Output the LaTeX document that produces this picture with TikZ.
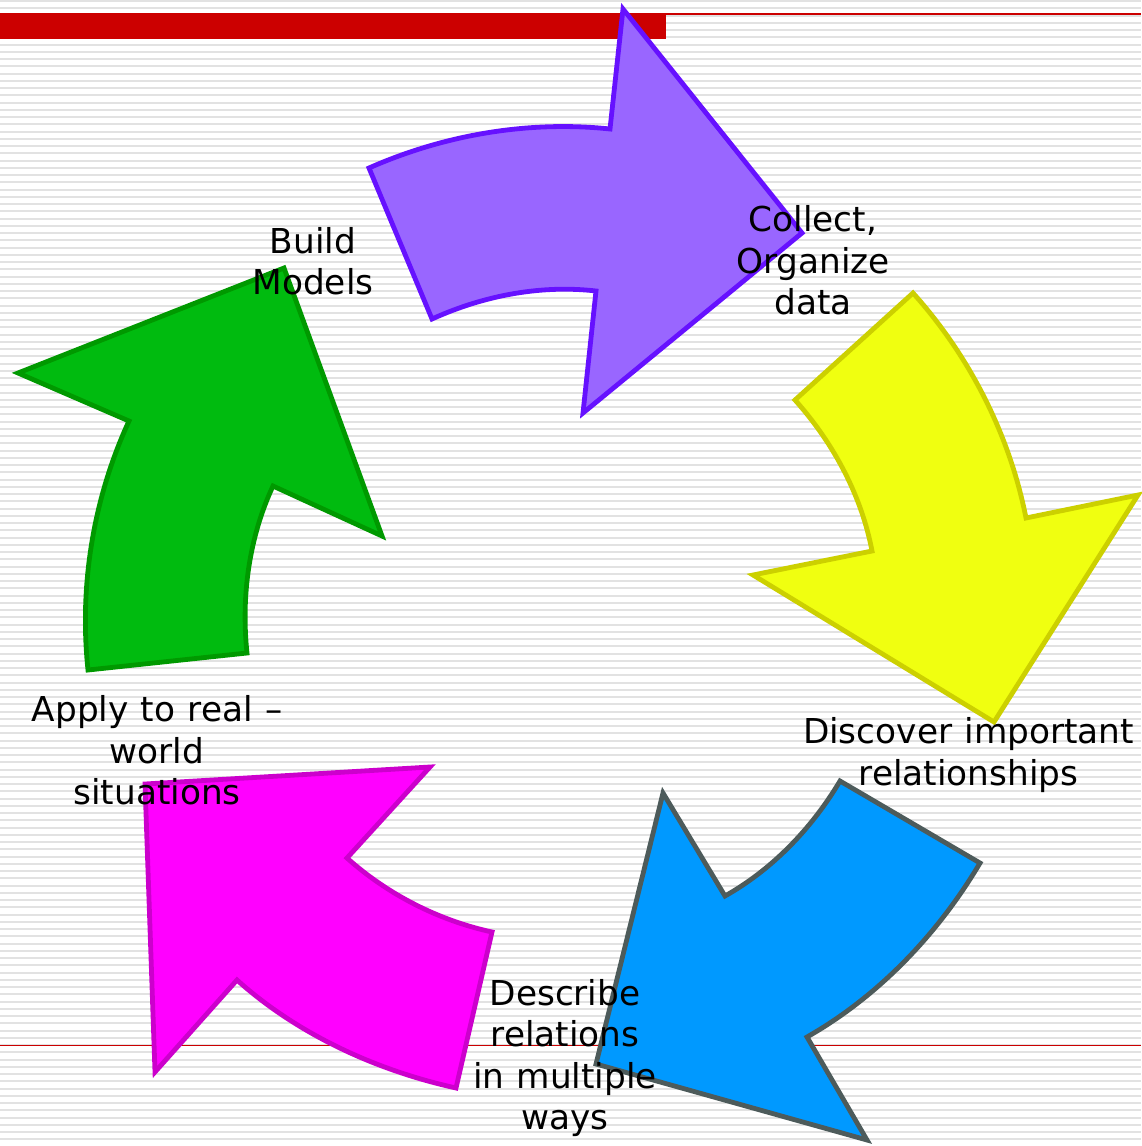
\documentclass[tikz,border=0pt]{standalone}
\usepackage{fontspec}
\setmainfont{DejaVu Sans}
\usetikzlibrary{calc}
\definecolor{barred}{HTML}{CC0000}
\definecolor{stripe}{HTML}{E2E2E2}
\definecolor{pufill}{HTML}{9966FF}\definecolor{pudraw}{HTML}{6611FF}
\definecolor{yefill}{HTML}{F0FF10}\definecolor{yedraw}{HTML}{CCD000}
\definecolor{blfill}{HTML}{0099FF}\definecolor{bldraw}{HTML}{4D5B5B}
\definecolor{mafill}{HTML}{FF00FF}\definecolor{madraw}{HTML}{CC00CC}
\definecolor{grfill}{HTML}{00BB0F}\definecolor{grdraw}{HTML}{009900}
\newcommand\arcpts[4]{%
  \coordinate (#1ta) at ($(#2)!1!90:(#4)$);
  \coordinate (#1tb) at ($(#3)!1!90:(#4)$);
  \coordinate (#1p) at (intersection of #2--#1ta and #3--#1tb);
  \coordinate (#1s) at ($(#2)!0.65!(#1p)$);
  \coordinate (#1e) at ($(#3)!0.65!(#1p)$);
}
\newcommand\lblfont{\fontsize{34.3}{41.5}\selectfont\spaceskip=0.36em plus 0.1em\relax}
\tikzset{
  arrowshape/.style={line width=4.8pt, line join=miter},
  lbl/.style={font=\lblfont, align=center, inner sep=0pt, text=black},
  stripeline/.style={draw=stripe, line width=2pt}
}
\begin{document}
\begin{tikzpicture}[x=1pt,y=-1pt]
\useasboundingbox (0,0) rectangle (1141,1146);
\fill[white] (0,0) rectangle (1141,1146);
\foreach \i in {0,...,157} \draw[stripeline] (0,{1+\i*7.25}) -- (1141,{1+\i*7.25});
% red bars
\fill[barred] (0,13) rectangle (666,38.7);
\draw[barred, line width=2pt] (666,14) -- (1141,14);
\draw[barred, line width=1.6pt] (0,1045.3) -- (1141,1045.3);

% purple arrow
\coordinate (pc) at (560,600);
\coordinate (p1) at (369,168);
\coordinate (p2) at (610,129);
\coordinate (p3) at (623,9);
\coordinate (p4) at (802,233);
\coordinate (p5) at (583,413);
\coordinate (p6) at (596,291);
\coordinate (p7) at (432,319);
\arcpts{pa}{p1}{p2}{pc}
\arcpts{pb}{p6}{p7}{pc}
\draw[arrowshape, fill=pufill, draw=pudraw] (p1) .. controls (pas) and (pae) .. (p2) -- (p3) -- (p4) -- (p5) -- (p6) .. controls (pbs) and (pbe) .. (p7) -- cycle;

% yellow arrow
\coordinate (yc) at (560,610);
\coordinate (y1) at (913,293);
\coordinate (y2) at (795,400);
\coordinate (y3) at (872,551);
\coordinate (y4) at (753,575);
\coordinate (y5) at (994,722);
\coordinate (y6) at (1138,495);
\coordinate (y7) at (1026,518);
\arcpts{ya}{y2}{y3}{yc}
\arcpts{yb}{y7}{y1}{yc}
\draw[arrowshape, fill=yefill, draw=yedraw] (y1) -- (y2) .. controls (yas) and (yae) .. (y3) -- (y4) -- (y5) -- (y6) -- (y7) .. controls (ybs) and (ybe) .. (y1) -- cycle;

% blue arrow
\coordinate (bc) at (570,620);
\coordinate (b1) at (840,781);
\coordinate (b2) at (980,863);
\coordinate (b3) at (807,1037);
\coordinate (b4) at (867,1140);
\coordinate (b5) at (596,1064);
\coordinate (b6) at (663,793);
\coordinate (b7) at (725,896);
\arcpts{ba}{b2}{b3}{bc}
\arcpts{bb}{b7}{b1}{bc}
\draw[arrowshape, fill=blfill, draw=bldraw] (b1) -- (b2) .. controls (bas) and (bae) .. (b3) -- (b4) -- (b5) -- (b6) -- (b7) .. controls (bbs) and (bbe) .. (b1) -- cycle;

% magenta arrow
\coordinate (mc) at (560,620);
\coordinate (m1) at (430,767);
\coordinate (m2) at (145,784);
\coordinate (m3) at (155,1072);
\coordinate (m4) at (237,980);
\coordinate (m5) at (456,1088);
\coordinate (m6) at (492,932);
\coordinate (m7) at (347,858);
\arcpts{ma}{m4}{m5}{mc}
\arcpts{mb}{m6}{m7}{mc}
\draw[arrowshape, fill=mafill, draw=madraw] (m1) -- (m2) -- (m3) -- (m4) .. controls (mas) and (mae) .. (m5) -- (m6) .. controls (mbs) and (mbe) .. (m7) -- cycle;

% green arrow
\coordinate (gc) at (560,620);
\coordinate (g1) at (284,268);
\coordinate (g2) at (18,373);
\coordinate (g3) at (129,421);
\coordinate (g4) at (88,670);
\coordinate (g5) at (247,653);
\coordinate (g6) at (273,486);
\coordinate (g7) at (382,536);
\arcpts{ga}{g3}{g4}{gc}
\arcpts{gb}{g5}{g6}{gc}
\draw[arrowshape, fill=grfill, draw=grdraw] (g1) -- (g2) -- (g3) .. controls (gas) and (gae) .. (g4) -- (g5) .. controls (gbs) and (gbe) .. (g6) -- (g7) -- cycle;

% labels
\node[lbl] (collect) at (813,260.5) {Collect,\\Organize\\data};
\node[lbl] (build) at (313,261) {Build\\Models};
\node[lbl] (discover) at (968.5,755) {Discover important\\relationships};
\node[lbl] (describe) at (565,1058) {Describe\\relations\\in multiple\\ways};
\node[lbl] (apply) at (157,750.5) {Apply to real –\\world\\situations};
\end{tikzpicture}
\end{document}
